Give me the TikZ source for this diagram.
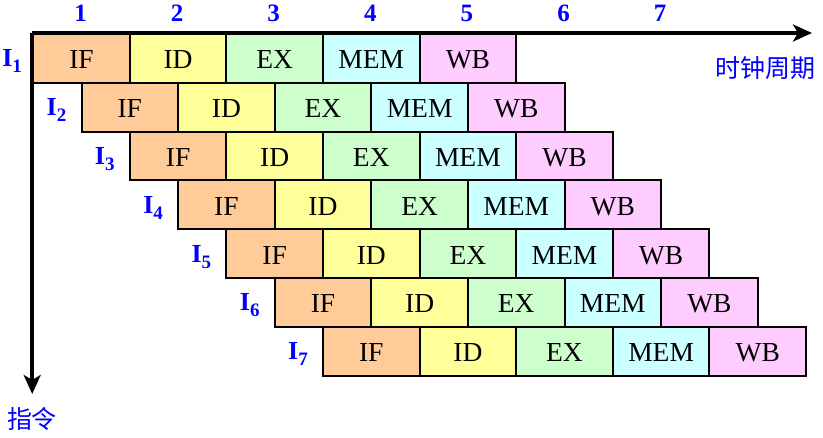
\documentclass[tikz,border=0pt]{standalone}
\usepackage{fontspec}
\setmainfont{Liberation Serif}
\newfontfamily\cjk{Noto Sans CJK SC}
\usetikzlibrary{arrows.meta}
\definecolor{cIF}{HTML}{FFCC99}
\definecolor{cID}{HTML}{FFFF99}
\definecolor{cEX}{HTML}{CCFFCC}
\definecolor{cMEM}{HTML}{CCFFFF}
\definecolor{cWB}{HTML}{FFCCFF}
\definecolor{lblue}{HTML}{0000FF}
\begin{document}
\begin{tikzpicture}[x=1pt,y=-1pt,
  cell/.style={draw=black, line width=2pt, minimum width=96.6pt, minimum height=48.8pt,
    inner sep=0pt, text height=21pt, text depth=0pt, anchor=north west,
    font=\fontsize{27.5}{27.5}\selectfont},
  rowlab/.style={text=lblue, inner sep=0pt, anchor=base east, font=\fontsize{26}{26}\selectfont\bfseries},
  num/.style={text=lblue, inner sep=0pt, font=\fontsize{25}{25}\selectfont\bfseries},
  cjklab/.style={text=lblue, inner sep=0pt, font=\fontsize{25}{25}\cjk},
  axis/.style={line width=4.5pt, -{Stealth[length=19pt,width=17pt,inset=5pt]}}]
\useasboundingbox (0,0) rectangle (823,438);
\foreach \r in {1,...,7} {
  \foreach [count=\c] \s/\col in {IF/cIF, ID/cID, EX/cEX, MEM/cMEM, WB/cWB} {
    \node[cell, fill=\col] (r\r c\c) at ({32.2+(\r-1)*48.3+(\c-1)*96.6}, {33+(\r-1)*48.8}) {\s};
  }
  \pgfmathsetmacro{\gap}{ifthenelse(\r==1,10,14)}
  \node[rowlab] (l\r) at ({32.2+(\r-1)*48.3-\gap}, {33+(\r-1)*48.8+24.4+9.5})
    {I\raisebox{-6pt}{\fontsize{19}{19}\selectfont\r}};
}
\foreach \k in {1,...,7} {
  \node[num] (n\k) at ({80.5+(\k-1)*96.6}, 13) {\k};
}
\coordinate (O) at (32.2,33);
\coordinate (xend) at (812,33);
\coordinate (yend) at (32.2,394);
\draw[axis] (O) -- (xend);
\draw[axis] (O) -- (yend);
\node[cjklab] (tlab) at (765,68) {时钟周期};
\node[cjklab] (ilab) at (32,419) {指令};
\end{tikzpicture}
\end{document}
